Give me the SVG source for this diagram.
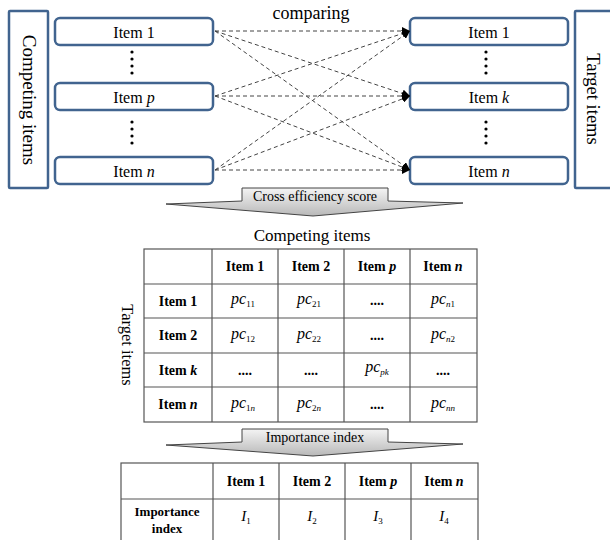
<svg xmlns="http://www.w3.org/2000/svg" width="610" height="540" viewBox="0 0 610 540" font-family="Liberation Serif">
<defs>
<style>
.box{fill:#fff;stroke:#41648f;stroke-width:2.5}
.con{stroke:#444;stroke-width:1;stroke-dasharray:4,3;fill:none;marker-end:url(#ah)}
.grid{stroke:#555;stroke-width:1.2;fill:none}
.dot{fill:#000}
.arr{fill:url(#g);stroke:#444;stroke-width:1}
</style>
<marker id="ah" viewBox="0 0 10 10" refX="10" refY="5" markerWidth="8" markerHeight="8" markerUnits="userSpaceOnUse" orient="auto">
<path d="M0,0 L10,5 L0,10 Z" fill="#000"/>
</marker>
<linearGradient id="g" x1="0" y1="0" x2="0" y2="1">
<stop offset="0" stop-color="#f4f4f4"/>
<stop offset="1" stop-color="#b8b8b8"/>
</linearGradient>
</defs>

<g id="competing-items">
<rect class="box" x="9" y="11" width="39" height="177" rx="1"/>
<text font-family="Liberation Serif" font-size="19" text-anchor="middle" transform="translate(23,100) rotate(90)">Competing items</text>
</g>
<g id="target-items">
<rect class="box" x="575" y="11" width="45" height="177" rx="1"/>
<text font-family="Liberation Serif" font-size="18.5" text-anchor="middle" transform="translate(587,99) rotate(90)">Target items</text>
</g>

<g id="left-item1"><rect class="box" x="55" y="18" width="158" height="27" rx="5"/><text font-family="Liberation Serif" font-size="16" text-anchor="middle" x="134" y="37.5">Item 1</text></g>
<g id="left-itemp"><rect class="box" x="55" y="83" width="158" height="27" rx="5"/><text font-family="Liberation Serif" font-size="16" text-anchor="middle" x="134" y="102.5">Item <tspan font-style="italic">p</tspan></text></g>
<g id="left-itemn"><rect class="box" x="55" y="157" width="158" height="27" rx="5"/><text font-family="Liberation Serif" font-size="16" text-anchor="middle" x="134" y="176.5">Item <tspan font-style="italic">n</tspan></text></g>
<g id="right-item1"><rect class="box" x="410" y="18" width="158" height="27" rx="5"/><text font-family="Liberation Serif" font-size="16" text-anchor="middle" x="489" y="37.5">Item 1</text></g>
<g id="right-itemk"><rect class="box" x="410" y="83" width="158" height="27" rx="5"/><text font-family="Liberation Serif" font-size="16" text-anchor="middle" x="489" y="102.5">Item <tspan font-style="italic">k</tspan></text></g>
<g id="right-itemn"><rect class="box" x="410" y="157" width="158" height="27" rx="5"/><text font-family="Liberation Serif" font-size="16" text-anchor="middle" x="489" y="176.5">Item <tspan font-style="italic">n</tspan></text></g>

<g id="dots">
<circle class="dot" cx="132" cy="52" r="1.6"/><circle class="dot" cx="132" cy="59" r="1.6"/><circle class="dot" cx="132" cy="66" r="1.6"/><circle class="dot" cx="132" cy="73" r="1.6"/>
<circle class="dot" cx="132" cy="122" r="1.6"/><circle class="dot" cx="132" cy="129" r="1.6"/><circle class="dot" cx="132" cy="136" r="1.6"/><circle class="dot" cx="132" cy="143" r="1.6"/>
<circle class="dot" cx="486" cy="52" r="1.6"/><circle class="dot" cx="486" cy="59" r="1.6"/><circle class="dot" cx="486" cy="66" r="1.6"/><circle class="dot" cx="486" cy="73" r="1.6"/>
<circle class="dot" cx="486" cy="122" r="1.6"/><circle class="dot" cx="486" cy="129" r="1.6"/><circle class="dot" cx="486" cy="136" r="1.6"/><circle class="dot" cx="486" cy="143" r="1.6"/>
</g>

<text font-family="Liberation Serif" font-size="18" text-anchor="middle" x="311" y="19">comparing</text>

<g id="connectors">
<line class="con" x1="215" y1="31" x2="410" y2="31"/>
<line class="con" x1="215" y1="31" x2="410" y2="96"/>
<line class="con" x1="215" y1="31" x2="410" y2="170"/>
<line class="con" x1="215" y1="96" x2="410" y2="31"/>
<line class="con" x1="215" y1="96" x2="410" y2="96"/>
<line class="con" x1="215" y1="96" x2="410" y2="170"/>
<line class="con" x1="215" y1="170" x2="410" y2="31"/>
<line class="con" x1="215" y1="170" x2="410" y2="96"/>
<line class="con" x1="215" y1="170" x2="410" y2="170"/>
</g>

<g id="arrow-cross">
<polygon class="arr" points="242,188 388,188 388,201 463,203 313,216 166,204 242,201"/>
<text font-family="Liberation Serif" font-size="14" text-anchor="middle" x="315" y="200.5">Cross efficiency score</text>
</g>

<text font-family="Liberation Serif" font-size="17" text-anchor="middle" x="312" y="241">Competing items</text>
<text font-family="Liberation Serif" font-size="16.5" text-anchor="middle" transform="translate(122,345) rotate(90)">Target items</text>

<g id="table1">
<g class="grid">
<rect x="144" y="249" width="333" height="173"/>
<line x1="212" y1="249" x2="212" y2="422"/>
<line x1="278" y1="249" x2="278" y2="422"/>
<line x1="344" y1="249" x2="344" y2="422"/>
<line x1="410" y1="249" x2="410" y2="422"/>
<line x1="144" y1="284" x2="477" y2="284"/>
<line x1="144" y1="318" x2="477" y2="318"/>
<line x1="144" y1="353" x2="477" y2="353"/>
<line x1="144" y1="387" x2="477" y2="387"/>
</g>
<text font-family="Liberation Serif" font-size="14" font-weight="bold" text-anchor="middle" x="245" y="271">Item 1</text>
<text font-family="Liberation Serif" font-size="14" font-weight="bold" text-anchor="middle" x="311" y="271">Item 2</text>
<text font-family="Liberation Serif" font-size="14" font-weight="bold" text-anchor="middle" x="377" y="271">Item <tspan font-style="italic">p</tspan></text>
<text font-family="Liberation Serif" font-size="14" font-weight="bold" text-anchor="middle" x="443" y="271">Item <tspan font-style="italic">n</tspan></text>
<text font-family="Liberation Serif" font-size="14" font-weight="bold" text-anchor="middle" x="178" y="306">Item 1</text>
<text font-family="Liberation Serif" font-size="14" font-weight="bold" text-anchor="middle" x="178" y="340">Item 2</text>
<text font-family="Liberation Serif" font-size="14" font-weight="bold" text-anchor="middle" x="178" y="375">Item <tspan font-style="italic">k</tspan></text>
<text font-family="Liberation Serif" font-size="14" font-weight="bold" text-anchor="middle" x="178" y="409">Item <tspan font-style="italic">n</tspan></text>

<text font-family="Liberation Serif" font-size="16" font-style="italic" text-anchor="middle" x="243" y="304">pc<tspan font-size="9" font-style="normal" dy="3">11</tspan></text>
<text font-family="Liberation Serif" font-size="16" font-style="italic" text-anchor="middle" x="309" y="304">pc<tspan font-size="9" font-style="normal" dy="3">21</tspan></text>
<text font-family="Liberation Serif" font-size="14" font-weight="bold" text-anchor="middle" x="377" y="305">....</text>
<text font-family="Liberation Serif" font-size="16" font-style="italic" text-anchor="middle" x="443" y="304">pc<tspan font-size="9" dy="3">n</tspan><tspan font-size="9" font-style="normal">1</tspan></text>

<text font-family="Liberation Serif" font-size="16" font-style="italic" text-anchor="middle" x="243" y="339">pc<tspan font-size="9" font-style="normal" dy="3">12</tspan></text>
<text font-family="Liberation Serif" font-size="16" font-style="italic" text-anchor="middle" x="309" y="339">pc<tspan font-size="9" font-style="normal" dy="3">22</tspan></text>
<text font-family="Liberation Serif" font-size="14" font-weight="bold" text-anchor="middle" x="377" y="340">....</text>
<text font-family="Liberation Serif" font-size="16" font-style="italic" text-anchor="middle" x="443" y="339">pc<tspan font-size="9" dy="3">n</tspan><tspan font-size="9" font-style="normal">2</tspan></text>

<text font-family="Liberation Serif" font-size="14" font-weight="bold" text-anchor="middle" x="245" y="375">....</text>
<text font-family="Liberation Serif" font-size="14" font-weight="bold" text-anchor="middle" x="311" y="375">....</text>
<text font-family="Liberation Serif" font-size="16" font-style="italic" text-anchor="middle" x="377" y="372">pc<tspan font-size="9" dy="3">pk</tspan></text>
<text font-family="Liberation Serif" font-size="14" font-weight="bold" text-anchor="middle" x="443" y="375">....</text>

<text font-family="Liberation Serif" font-size="16" font-style="italic" text-anchor="middle" x="243" y="408">pc<tspan font-size="9" font-style="normal" dy="3">1</tspan><tspan font-size="9">n</tspan></text>
<text font-family="Liberation Serif" font-size="16" font-style="italic" text-anchor="middle" x="309" y="408">pc<tspan font-size="9" font-style="normal" dy="3">2</tspan><tspan font-size="9">n</tspan></text>
<text font-family="Liberation Serif" font-size="14" font-weight="bold" text-anchor="middle" x="377" y="409">....</text>
<text font-family="Liberation Serif" font-size="16" font-style="italic" text-anchor="middle" x="443" y="408">pc<tspan font-size="9" dy="3">nn</tspan></text>
</g>

<g id="arrow-importance">
<polygon class="arr" points="242,429 388,429 388,442 463,444 313,456 166,445 242,442"/>
<text font-family="Liberation Serif" font-size="14" text-anchor="middle" x="315" y="441.5">Importance index</text>
</g>

<g id="table2">
<g class="grid">
<rect x="121" y="463" width="357" height="90"/>
<line x1="213" y1="463" x2="213" y2="553"/>
<line x1="279" y1="463" x2="279" y2="553"/>
<line x1="345" y1="463" x2="345" y2="553"/>
<line x1="411" y1="463" x2="411" y2="553"/>
<line x1="121" y1="499" x2="478" y2="499"/>
</g>
<text font-family="Liberation Serif" font-size="14" font-weight="bold" text-anchor="middle" x="246" y="486">Item 1</text>
<text font-family="Liberation Serif" font-size="14" font-weight="bold" text-anchor="middle" x="312" y="486">Item 2</text>
<text font-family="Liberation Serif" font-size="14" font-weight="bold" text-anchor="middle" x="378" y="486">Item <tspan font-style="italic">p</tspan></text>
<text font-family="Liberation Serif" font-size="14" font-weight="bold" text-anchor="middle" x="444" y="486">Item <tspan font-style="italic">n</tspan></text>
<text font-family="Liberation Serif" font-size="13" font-weight="bold" text-anchor="middle" x="167" y="516">Importance</text>
<text font-family="Liberation Serif" font-size="13" font-weight="bold" text-anchor="middle" x="167" y="533">index</text>
<text font-family="Liberation Serif" font-size="15" font-style="italic" text-anchor="middle" x="246" y="521">I<tspan font-size="9" font-style="normal" dy="3">1</tspan></text>
<text font-family="Liberation Serif" font-size="15" font-style="italic" text-anchor="middle" x="312" y="521">I<tspan font-size="9" font-style="normal" dy="3">2</tspan></text>
<text font-family="Liberation Serif" font-size="15" font-style="italic" text-anchor="middle" x="378" y="521">I<tspan font-size="9" font-style="normal" dy="3">3</tspan></text>
<text font-family="Liberation Serif" font-size="15" font-style="italic" text-anchor="middle" x="444" y="521">I<tspan font-size="9" font-style="normal" dy="3">4</tspan></text>
</g>
</svg>
